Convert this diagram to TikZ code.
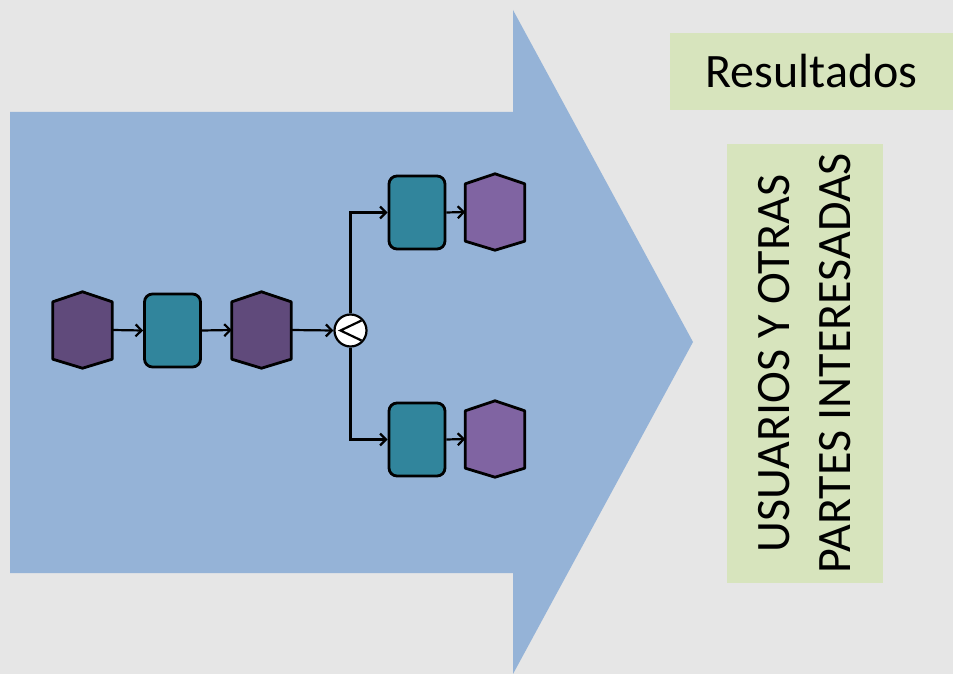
\documentclass[tikz,border=0pt]{standalone}
\usepackage{fontspec}
\setmainfont{Carlito}
\usetikzlibrary{arrows.meta}
\definecolor{bgc}{HTML}{E6E6E6}
\definecolor{arrowc}{HTML}{95B3D7}
\definecolor{greenc}{HTML}{D7E4BD}
\definecolor{hexdark}{HTML}{604A7B}
\definecolor{hexlight}{HTML}{8064A2}
\definecolor{taskc}{HTML}{31859C}
\tikzset{
  hexbox/.style={rectangle,inner sep=0pt,minimum width=59pt,minimum height=76pt},
  taskbox/.style={rectangle,rounded corners=8pt,draw=black,line width=2.8pt,fill=taskc,inner sep=0pt,minimum width=56pt,minimum height=73pt},
  hexline/.style={draw=black,line width=2.8pt,line join=round},
  flow/.style={draw=black,line width=2.2pt,-{Straight Barb[length=6pt,width=12pt,line width=2.2pt]}},
  gate/.style={circle,draw=black,line width=2.2pt,fill=white,inner sep=0pt,minimum size=32pt},
  label/.style={fill=greenc,inner sep=0pt,font=\fontsize{48}{61}\selectfont}
}
\begin{document}
\begin{tikzpicture}[x=1pt,y=-1pt]
\fill[bgc] (0,0) rectangle (953,674);
\useasboundingbox (0,0) rectangle (953,674);
% big arrow
\fill[arrowc] (10,112) -- (513,112) -- (513,10) -- (693,342) -- (513,674) -- (513,573) -- (10,573) -- cycle;
% labels
\node[label,minimum width=283pt,minimum height=77pt] (res) at (811.5,71.5) {Resultados};
\node[label,minimum width=439pt,minimum height=156pt,rotate=90,align=center] (usr) at (805,363.5) {USUARIOS Y OTRAS\\PARTES INTERESADAS};
% process nodes
\node[hexbox] (h1) at (82.5,330) {};
\node[taskbox] (t1) at (172.5,330.5) {};
\node[hexbox] (h2) at (261.5,330) {};
\node[gate] (g) at (350.5,330.5) {};
\node[taskbox] (t2) at (417,212.5) {};
\node[hexbox] (h3) at (495,212) {};
\node[taskbox] (t3) at (417,439.5) {};
\node[hexbox] (h4) at (495,439) {};
\foreach \n/\c in {h1/hexdark,h2/hexdark,h3/hexlight,h4/hexlight}
  \filldraw[fill=\c,hexline] (\n.north) -- ([yshift=-10pt]\n.north east) -- ([yshift=9pt]\n.south east) -- (\n.south) -- ([yshift=9pt]\n.south west) -- ([yshift=-10pt]\n.north west) -- cycle;
% gateway symbol
\draw[line width=2.2pt,line join=miter] ([shift={(11,-10)}]g.center) -- ([shift={(-10,0)}]g.center) -- ([shift={(11,10)}]g.center);
% connectors
\draw[flow] (h1.east) -- (t1.west);
\draw[flow] (t1.east) -- (h2.west);
\draw[flow] (h2.east) -- (g.west);
\draw[flow] (g.north) |- (t2.west);
\draw[flow] (g.south) |- (t3.west);
\draw[flow] (t2.east) -- (h3.west);
\draw[flow] (t3.east) -- (h4.west);
\end{tikzpicture}
\end{document}
